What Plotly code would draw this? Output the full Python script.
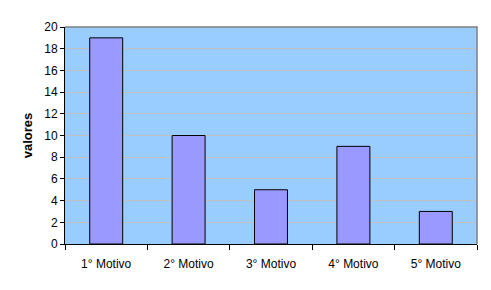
import plotly.graph_objects as go

categories = ["1° Motivo", "2° Motivo", "3° Motivo", "4° Motivo", "5° Motivo"]
values = [19, 10, 5, 9, 3]
y_ticks = list(range(0, 21, 2))

fig = go.Figure(go.Bar(
    x=categories, y=values,
    marker=dict(color="#9999FF", line=dict(color="#000000", width=1)),
    width=0.4,
))

fig.update_layout(
    width=491, height=290,
    margin=dict(l=65, r=14, t=27, b=46),
    paper_bgcolor="#FFFFFF", plot_bgcolor="#99CCFF",
    font=dict(family="Liberation Sans, Arial", size=12, color="#000000"),
    showlegend=False,
    xaxis=dict(
        type="category", tickson="boundaries", ticks="outside", ticklen=5,
        tickcolor="#000000", showline=True, linecolor="#000000", linewidth=1,
        showgrid=False, tickfont=dict(size=12), ticklabelstandoff=9,
    ),
    yaxis=dict(
        range=[0, 20], tickvals=y_ticks, ticks="outside", ticklen=4,
        tickcolor="#000000", showline=True, linecolor="#000000", linewidth=1,
        showgrid=True, gridcolor="#C0C0C0", gridwidth=1, zeroline=False,
        title=dict(text="<b>valores</b>", font=dict(size=13), standoff=8),
        tickfont=dict(size=12),
    ),
    shapes=[dict(type="path", xref="paper", yref="paper",
                 path="M 0 1 L 1 1 L 1 0", line=dict(color="#808080", width=1.5))],
)

fig.write_html("out.html")
